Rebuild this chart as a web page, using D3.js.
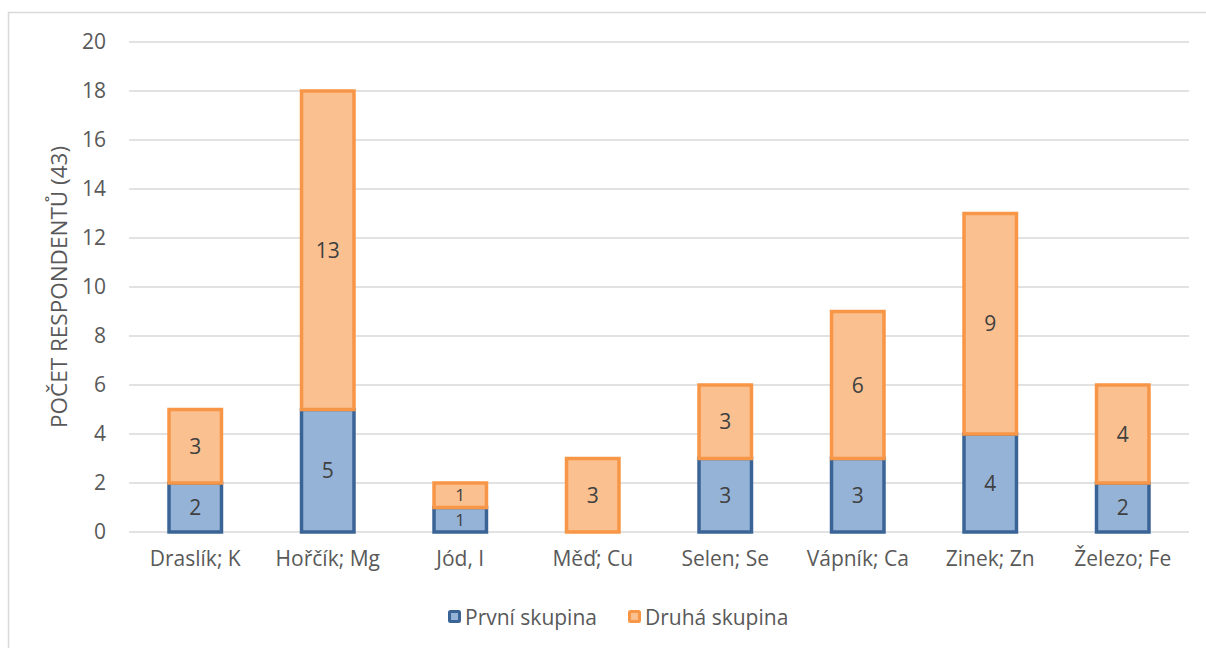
<!DOCTYPE html>
<html><head><meta charset="utf-8">
<script src="https://cdn.jsdelivr.net/npm/d3@7"></script>
<style>body{margin:0;background:#fff}svg{display:block;font-family:"Open Sans",sans-serif}</style>
</head><body>
<svg id="c" width="1206" height="648"></svg>
<script>
const categories = ["Draslík; K","Hořčík; Mg","Jód, I","Měď; Cu","Selen; Se","Vápník; Ca","Zinek; Zn","Železo; Fe"];
const prvni = [2,5,1,0,3,3,4,2];
const druha = [3,13,1,3,3,6,9,4];
const seriesNames = ["První skupina","Druhá skupina"];
const yTicks = [0,2,4,6,8,10,12,14,16,18,20];
const yTitle = "POČET RESPONDENTŮ (43)";

const svg = d3.select("#c");
svg.append("rect").attr("x",8.5).attr("y",12.5).attr("width",1210).attr("height",660)
  .attr("fill","#fff").attr("stroke","#d9d9d9").attr("stroke-width",1.5);

const x = d3.scaleBand().domain(categories).range([129,1189]).paddingInner(0.604).paddingOuter(0.302);
const y = d3.scaleLinear().domain([0,20]).range([532,42]);

const fills = ["#95b3d7","#fac090"], strokes = ["#3b6496","#f79646"];
const FS = 21;

// grid
svg.append("g").selectAll("line").data(yTicks).join("line")
  .attr("x1",129).attr("x2",1189).attr("y1",d=>y(d)).attr("y2",d=>y(d))
  .attr("stroke","#d9d9d9").attr("stroke-width",1.5);

// y axis labels
const ya = svg.append("g").attr("transform","translate(106,0)")
  .call(d3.axisLeft(y).tickValues(yTicks).tickSize(0).tickPadding(0));
ya.select(".domain").remove();
ya.selectAll("text").attr("font-size",FS).attr("fill","#595959").attr("font-family","Open Sans");

// x axis labels
const xa = svg.append("g").attr("transform","translate(0,547)")
  .call(d3.axisBottom(x).tickSize(0).tickPadding(0));
xa.select(".domain").remove();
xa.selectAll("text").attr("font-size",FS).attr("fill","#595959").attr("font-family","Open Sans").attr("dy","0.9em");

const stack = categories.map((c,i)=>({c, a:prvni[i], b:druha[i]}));
// bars
const g = svg.append("g");
[0,1].forEach(k=>{
  stack.forEach(d=>{
    const s = k===0 ? 0 : d.a, e = k===0 ? d.a : d.a+d.b;
    if(e-s<=0) return;
    g.append("rect").attr("x",x(d.c)).attr("width",x.bandwidth())
      .attr("y",y(e)).attr("height",y(s)-y(e))
      .attr("fill",fills[k]).attr("stroke",strokes[k]).attr("stroke-width",3.5);
  });
});
// labels
stack.forEach(d=>{
  [[0,d.a],[d.a,d.a+d.b]].forEach(([s,e])=>{
    if(e-s<=0) return;
    const h = y(s)-y(e);
    const fs = Math.min(FS, (h-1)/1.37);
    g.append("text").attr("x",x(d.c)+x.bandwidth()/2).attr("y",(y(s)+y(e))/2)
      .attr("dy","0.36em").attr("text-anchor","middle").attr("font-size",fs).attr("fill","#404040")
      .text(e-s);
  });
});

// y title
svg.append("text").attr("transform","translate(67,287) rotate(-90)").attr("text-anchor","middle")
  .attr("font-size",22.5).attr("fill","#595959").text(yTitle);

// legend
const leg = svg.append("g");
const lx = [448,628];
seriesNames.forEach((n,i)=>{
  leg.append("rect").attr("x",lx[i]+1.5).attr("y",611.5).attr("width",10).attr("height",10)
    .attr("fill",fills[i]).attr("stroke",strokes[i]).attr("stroke-width",3).attr("rx",1);
  leg.append("text").attr("x",lx[i]+17).attr("y",617).attr("dy","0.36em")
    .attr("font-size",FS).attr("fill","#595959").text(n);
});
</script>
</body></html>
